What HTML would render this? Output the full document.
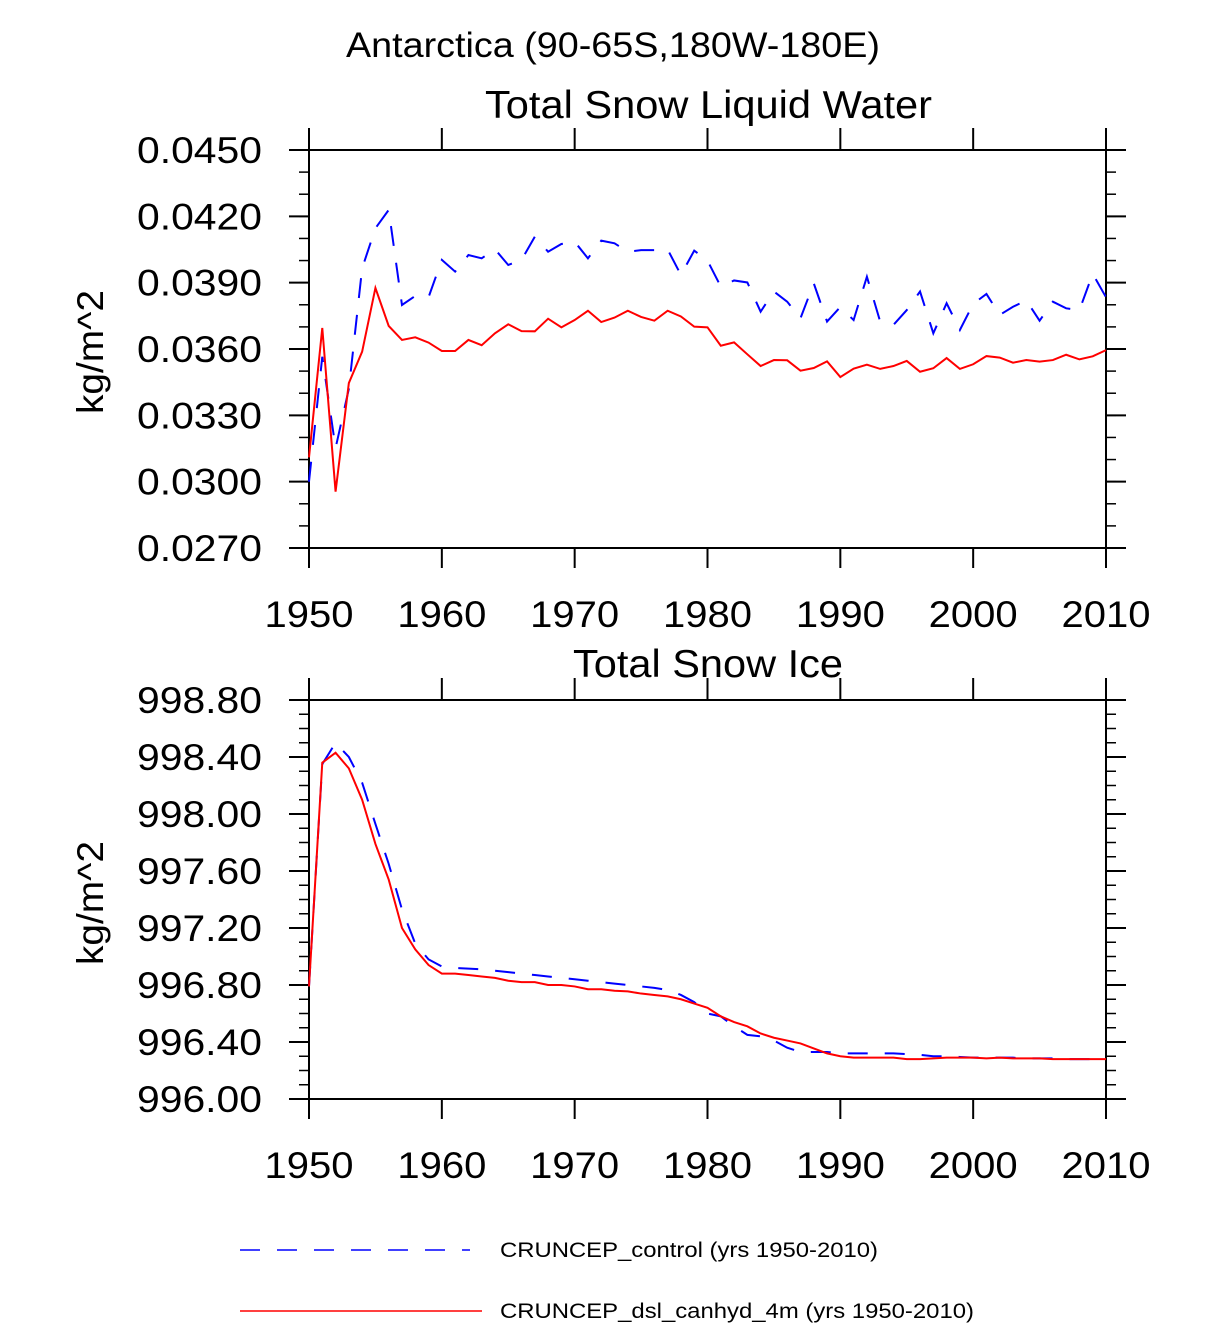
<!DOCTYPE html>
<html><head><meta charset="utf-8">
<style>
html,body{margin:0;padding:0;background:#fff;}
svg{display:block;font-family:"Liberation Sans",Arial,sans-serif;}
</style></head>
<body>
<svg id="chart" width="1224" height="1324" viewBox="0 0 1224 1324">
<text x="346" y="57" font-size="35" textLength="534" lengthAdjust="spacingAndGlyphs">Antarctica (90-65S,180W-180E)</text>
<text x="485" y="118" font-size="39" textLength="447" lengthAdjust="spacingAndGlyphs">Total Snow Liquid Water</text>
<text x="573" y="677" font-size="39" textLength="270" lengthAdjust="spacingAndGlyphs">Total Snow Ice</text>
<text transform="translate(103,352) rotate(-90)" font-size="37" text-anchor="middle" textLength="124" lengthAdjust="spacingAndGlyphs">kg/m^2</text>
<text transform="translate(103,903) rotate(-90)" font-size="37" text-anchor="middle" textLength="124" lengthAdjust="spacingAndGlyphs">kg/m^2</text>
<g id="p1"></g>
<g id="p2"></g>
<g>
  <line x1="240" y1="1250" x2="470" y2="1250" stroke="#00f" stroke-width="1.5" stroke-dasharray="20,17"/>
  <text x="500" y="1257" font-size="21" textLength="378" lengthAdjust="spacingAndGlyphs">CRUNCEP_control (yrs 1950-2010)</text>
  <line x1="240" y1="1311" x2="482" y2="1311" stroke="#f00" stroke-width="1.5"/>
  <text x="500" y="1318" font-size="21" textLength="474" lengthAdjust="spacingAndGlyphs">CRUNCEP_dsl_canhyd_4m (yrs 1950-2010)</text>
</g>
</svg>
<script>
const years = [];
for (let y = 1950; y <= 2010; y++) years.push(y);
const xTicks = [1950,1960,1970,1980,1990,2000,2010];
const liqControl = [0.0300,0.03565,0.03152,0.0342,0.03965,0.04146,0.04229,0.03799,0.0384,0.03834,
0.04003,0.0395,0.04025,0.0401,0.04051,0.0398,0.04003,0.04108,0.0404,0.04075,
0.04085,0.0401,0.0409,0.04078,0.0404,0.04047,0.04047,0.0405,0.03935,0.04045,
0.0400,0.03882,0.0391,0.03901,0.03769,0.0386,0.03814,0.03739,0.03897,0.03724,
0.0379,0.03731,0.03927,0.03724,0.03709,0.03776,0.0386,0.03671,0.03807,0.03686,
0.03804,0.03849,0.03754,0.03791,0.0382,0.03728,0.03814,0.03784,0.03776,0.0394,0.03834];
const liqDsl = [0.0311,0.03695,0.02955,0.03446,0.03588,0.03876,0.03704,0.03641,0.03653,0.03629,
0.03591,0.03591,0.03641,0.03617,0.03671,0.03712,0.03681,0.0368,0.03737,0.03698,
0.03731,0.03773,0.03722,0.03742,0.03773,0.03745,0.03728,0.03773,0.03747,0.03701,
0.03698,0.03615,0.0363,0.03576,0.03523,0.0355,0.03549,0.03502,0.03514,0.03544,
0.03473,0.03511,0.03529,0.0351,0.03523,0.03546,0.03497,0.03513,0.03559,0.0351,
0.03531,0.03568,0.03561,0.03538,0.0355,0.03543,0.0355,0.03574,0.03553,0.03567,0.03595];
const iceControl = [996.79,998.35,998.50,998.40,998.22,997.93,997.65,997.33,997.09,996.98,
996.93,996.92,996.915,996.91,996.90,996.89,996.88,996.87,996.86,996.85,
996.84,996.83,996.82,996.81,996.80,996.79,996.78,996.765,996.73,996.68,
996.60,996.58,996.51,996.45,996.44,996.41,996.36,996.33,996.33,996.33,
996.32,996.32,996.32,996.32,996.32,996.315,996.31,996.30,996.30,996.295,
996.29,996.29,996.29,996.29,996.285,996.285,996.285,996.28,996.28,996.28,996.28];
const iceDsl = [996.79,998.36,998.43,998.32,998.10,997.79,997.54,997.20,997.05,996.94,
996.88,996.88,996.87,996.86,996.85,996.83,996.82,996.82,996.80,996.80,
996.79,996.77,996.77,996.76,996.755,996.74,996.73,996.72,996.70,996.67,
996.64,996.58,996.54,996.51,996.46,996.43,996.41,996.39,996.355,996.32,
996.30,996.29,996.29,996.29,996.29,996.28,996.28,996.285,996.29,996.29,
996.29,996.285,996.29,996.285,996.285,996.285,996.28,996.28,996.28,996.28,996.28];
const liqTicks = ["0.0450","0.0420","0.0390","0.0360","0.0330","0.0300","0.0270"];
const iceTicks = ["998.80","998.40","998.00","997.60","997.20","996.80","996.40","996.00"];

const NS = "http://www.w3.org/2000/svg";
function mk(parent, tag, attrs) {
  const e = document.createElementNS(NS, tag);
  for (const k in attrs) e.setAttribute(k, attrs[k]);
  parent.appendChild(e);
  return e;
}
function panel(gid, top, bottom, ymin, ymax, yTicks, minorStep, s1, s2, prefix) {
  const g = document.getElementById(gid);
  const L = 309, R = 1106;
  const x = v => L + (v - 1950) / 60 * (R - L);
  const y = v => bottom - (v - ymin) / (ymax - ymin) * (bottom - top);
  const box = mk(g, "rect", {x: L, y: top, width: R - L, height: bottom - top, fill: "none", stroke: "#000", "stroke-width": 2});
  
  
  const nMinor = Math.round((ymax - ymin) / minorStep);
  for (let i = 0; i <= nMinor; i++) {
    const yy = y(ymin + i * minorStep);
    const a = mk(g, "line", {x1: L - 10, x2: L, y1: yy, y2: yy, stroke: "#000", "stroke-width": 1.5});
    
    
    const b = mk(g, "line", {x1: R, x2: R + 10, y1: yy, y2: yy, stroke: "#000", "stroke-width": 1.5});
    
    
  }
  yTicks.forEach(t => {
    const yy = y(parseFloat(t));
    const a = mk(g, "line", {x1: L - 20, x2: L, y1: yy, y2: yy, stroke: "#000", "stroke-width": 2});
    
    
    const b = mk(g, "line", {x1: R, x2: R + 20, y1: yy, y2: yy, stroke: "#000", "stroke-width": 2});
    
    
    const tx = mk(g, "text", {x: 137, y: yy + 13, "font-size": 37, textLength: 125, lengthAdjust: "spacingAndGlyphs"});
    tx.textContent = t;
    
    
  });
  xTicks.forEach(t => {
    const xx = x(t);
    const a = mk(g, "line", {x1: xx, x2: xx, y1: bottom, y2: bottom + 20, stroke: "#000", "stroke-width": 2});
    
    
    const b = mk(g, "line", {x1: xx, x2: xx, y1: top - 22, y2: top, stroke: "#000", "stroke-width": 2});
    
    
    const tx = mk(g, "text", {x: xx - 44.5, y: bottom + 79, "font-size": 37, textLength: 89, lengthAdjust: "spacingAndGlyphs"});
    tx.textContent = t;
    
    
  });
  const pts = arr => arr.map((v, i) => x(years[i]).toFixed(2) + "," + y(v).toFixed(2)).join(" ");
  const l1 = mk(g, "polyline", {points: pts(s1), fill: "none", stroke: "#00f", "stroke-width": 2, "stroke-dasharray": "20,17"});
  
  
  const l2 = mk(g, "polyline", {points: pts(s2), fill: "none", stroke: "#f00", "stroke-width": 2});
  
  
}
panel("p1", 150, 548, 0.027, 0.045, liqTicks, 0.001, liqControl, liqDsl, "liquid");
panel("p2", 700, 1099, 996.0, 998.8, iceTicks, 0.1, iceControl, iceDsl, "ice");
</script>
</body></html>
